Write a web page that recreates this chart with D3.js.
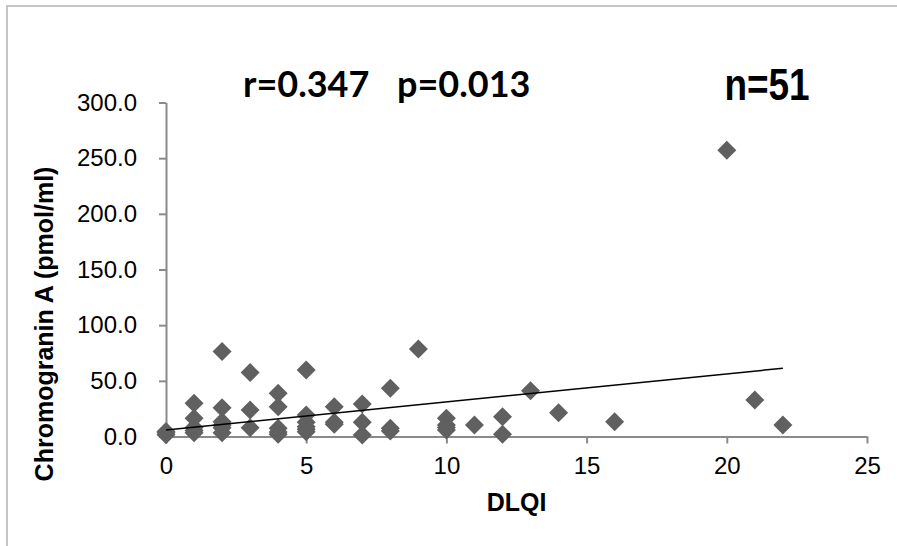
<!DOCTYPE html>
<html>
<head>
<meta charset="utf-8">
<script src="https://cdn.jsdelivr.net/npm/d3@7"></script>
<style>
  body { margin: 0; background: #fff; }
  .axis path, .axis line { stroke: #8a8a8a; stroke-width: 2; }
  .axis text { font-family: "Liberation Sans", Arial, sans-serif; font-size: 24px; fill: #000; }
</style>
</head>
<body>
<div id="chart"></div>
<script>
// DLQI score vs chromogranin A (overlapping points guessed)
var dlqi = [0, 0, 0,
  1, 1, 1, 1, 1,
  2, 2, 2, 2, 2, 2,
  3, 3, 3,
  4, 4, 4, 4, 4,
  5, 5, 5, 5, 5, 5,
  6, 6, 6,
  7, 7, 7,
  8, 8, 8,
  9,
  10, 10, 10, 10,
  11,
  12, 12,
  13, 14, 16, 20, 21, 22];
var cga = [3.4, 1.5, 4.5,
  29.9, 16.4, 8, 5.5, 3.4,
  76.3, 25.9, 13.3, 10, 7.9, 3.4,
  57.4, 23.8, 7.9,
  38.9, 26.8, 7.4, 4, 2,
  59.8, 19.3, 12.8, 8.8, 6.5, 4.3,
  26.8, 12.8, 11,
  29.2, 12.8, 1.3,
  43.3, 7.4, 5,
  78.7,
  16.4, 10.3, 8, 5.8,
  10.3,
  17.8, 2,
  41.2, 21.4, 13.3, 257.1, 32.8, 10.3];

// linear trend line as drawn in the original
var trendX = [0, 22];
var trendY = [5.8, 61.3];

var xTicks = [0, 5, 10, 15, 20, 25];
var yTicks = [0, 50, 100, 150, 200, 250, 300];

var statsText = ["r=0.347", "p=0.013"];
var nText = "n=51";

var width = 897, height = 546;

var svg = d3.select("#chart").append("svg")
    .attr("width", width)
    .attr("height", height);

// outer frame (only top and left edges are visible)
svg.append("path")
    .attr("d", "M7,546V6H897")
    .attr("fill", "none")
    .attr("stroke", "#b4b4b4")
    .attr("stroke-width", 1.5);

const xScale = d3.scaleLinear().domain([0, 25]).range([166, 867]);
const yScale = d3.scaleLinear().domain([0, 300]).range([436.5, 102.5]);

var xAxis = d3.axisBottom(xScale)
    .tickValues(xTicks)
    .tickSize(7)
    .tickSizeOuter(0)
    .tickPadding(13);
var yAxis = d3.axisLeft(yScale)
    .tickValues(yTicks)
    .tickSize(7)
    .tickSizeOuter(0)
    .tickPadding(22)
    .tickFormat(d3.format(".1f"));

svg.append("g")
    .attr("class", "y axis")
    .attr("transform", "translate(166,0)")
    .call(yAxis);

svg.append("g")
    .attr("class", "x axis")
    .attr("transform", "translate(0,436.5)")
    .call(xAxis);

// diamonds
var r = 9.5;
svg.append("g")
  .selectAll("path")
  .data(dlqi)
  .enter().append("path")
    .attr("d", (d, i) => {
      var cx = xScale(d), cy = yScale(cga[i]);
      return "M" + cx + "," + (cy - r) + "L" + (cx + r) + "," + cy +
             "L" + cx + "," + (cy + r) + "L" + (cx - r) + "," + cy + "Z";
    })
    .attr("fill", "#606060");

var line = d3.line()
    .x(d => xScale(d))
    .y((d, i) => yScale(trendY[i]));

svg.append("path")
    .datum(trendX)
    .attr("d", line)
    .attr("fill", "none")
    .attr("stroke", "#000")
    .attr("stroke-width", 1.5);

// axis titles
svg.append("text")
    .attr("transform", "translate(53,324) rotate(-90)")
    .attr("text-anchor", "middle")
    .style("font-family", "'Liberation Sans', Arial, sans-serif")
    .style("font-weight", "bold")
    .style("font-size", "25px")
    .text("Chromogranin A (pmol/ml)");

svg.append("text")
    .attr("x", 516.5)
    .attr("y", 511)
    .attr("text-anchor", "middle")
    .style("font-family", "'Liberation Sans', Arial, sans-serif")
    .style("font-weight", "bold")
    .style("font-size", "25px")
    .text("DLQI");

// stats annotations
svg.selectAll(".stat")
  .data(statsText)
  .enter().append("text")
    .attr("class", "stat")
    .attr("x", (d, i) => [243, 397][i])
    .attr("y", 97)
    .style("font-family", "Lato, 'Open Sans', sans-serif")
    .style("font-weight", "bold")
    .style("font-size", "36px")
    .text(d => d);

// narrow bold label, squeezed horizontally
svg.append("text")
    .attr("transform", "translate(767,99.5) scale(0.84,1)")
    .attr("text-anchor", "middle")
    .style("font-family", "'Liberation Sans', Arial, sans-serif")
    .style("font-weight", "bold")
    .style("font-size", "44px")
    .text(nText);
</script>
</body>
</html>
